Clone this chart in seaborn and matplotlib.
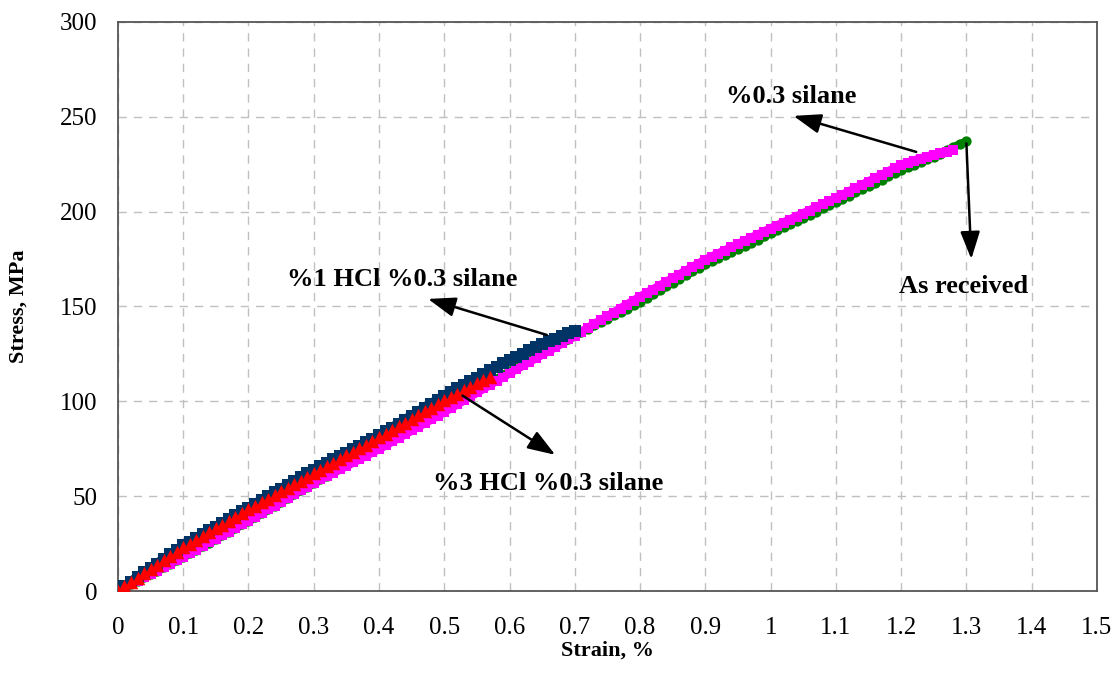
import numpy as np
import pandas as pd
import matplotlib
matplotlib.use("Agg")
import matplotlib.pyplot as plt
import seaborn as sns

# ---------------- data ----------------
strain_received = [round(i * 0.01, 2) for i in range(131)]
stress_received = [
    0, 1.6, 3.5, 5.3, 7.2, 9.0, 10.7, 12.6, 14.4, 16.2,
    18.0, 19.8, 21.8, 23.7, 25.5, 27.4, 29.4, 31.2, 33.1, 35.1,
    37.0, 39.0, 41.1, 43.0, 45.0, 47.1, 49.0, 51.0, 53.0, 55.0,
    57.0, 58.9, 60.8, 62.7, 64.6, 66.5, 68.4, 70.3, 72.2, 74.1,
    76.0, 78.0, 80.0, 82.0, 84.0, 86.0, 88.0, 90.0, 92.0, 94.0,
    96.0, 98.0, 100.0, 102.0, 104.0, 106.0, 108.0, 110.0, 112.0, 114.0,
    116.0, 117.9, 119.8, 121.7, 123.6, 125.5, 127.4, 129.3, 131.2, 133.1,
    135.0, 136.6, 138.3, 140.0, 141.8, 143.6, 145.3, 147.1, 148.9, 150.7,
    152.5, 154.5, 156.6, 158.6, 160.6, 162.6, 164.5, 166.5, 168.5, 170.5,
    172.5, 174.1, 175.6, 177.2, 178.8, 180.4, 182.0, 183.6, 185.2, 186.9,
    188.5, 190.1, 191.8, 193.4, 195.1, 196.7, 198.4, 200.0, 201.7, 203.3,
    205.0, 206.7, 208.4, 210.1, 211.8, 213.5, 215.2, 216.9, 218.6, 220.3,
    222.0, 223.4, 224.8, 226.2, 227.6, 229.0, 230.6, 232.3, 234.0, 235.8,
    237.0,
]

strain_silane = [round(i * 0.01, 2) for i in range(129)]
stress_silane = [
    0, 1.7, 3.5, 5.4, 7.2, 9.0, 10.8, 12.6, 14.4, 16.2,
    18.0, 19.9, 21.8, 23.7, 25.6, 27.5, 29.4, 31.3, 33.2, 35.1,
    37.0, 39.0, 41.0, 43.0, 45.0, 47.0, 49.0, 51.0, 53.0, 55.0,
    57.0, 58.8, 60.6, 62.4, 64.2, 66.0, 67.8, 69.6, 71.4, 73.2,
    75.0, 76.9, 78.9, 80.8, 82.8, 84.7, 86.7, 88.6, 90.6, 92.5,
    94.5, 96.5, 98.6, 100.6, 102.7, 104.7, 106.8, 108.8, 110.9, 112.9,
    115.0, 117.0, 118.9, 120.9, 122.8, 124.8, 126.7, 128.7, 130.6, 132.6,
    134.5, 136.6, 138.6, 140.7, 142.7, 144.8, 146.8, 148.9, 150.9, 153.0,
    155.0, 157.0, 158.9, 160.9, 162.8, 164.8, 166.7, 168.7, 170.6, 172.6,
    174.5, 176.2, 177.8, 179.5, 181.1, 182.8, 184.4, 186.1, 187.7, 189.4,
    191.0, 192.6, 194.2, 195.8, 197.4, 199.0, 200.6, 202.2, 203.8, 205.4,
    207.0, 208.8, 210.5, 212.3, 214.0, 215.8, 217.5, 219.3, 221.0, 222.8,
    224.5, 225.8, 226.9, 228.0, 229.0, 229.9, 230.8, 231.7, 232.5,
]

strain_hcl1 = [round(i * 0.01, 2) for i in range(71)]
stress_hcl1 = [
    0, 2.6, 5.0, 7.4, 9.8, 12.1, 14.5, 16.9, 19.3, 21.7,
    24.0, 26.0, 28.0, 30.0, 32.0, 34.0, 36.0, 38.0, 40.0, 42.0,
    44.0, 46.0, 48.0, 50.0, 52.0, 54.0, 56.0, 58.0, 60.0, 62.0,
    64.0, 65.8, 67.6, 69.4, 71.2, 73.0, 74.8, 76.6, 78.4, 80.2,
    82.0, 84.1, 86.2, 88.3, 90.4, 92.5, 94.6, 96.7, 98.8, 100.9,
    103.0, 104.9, 106.8, 108.7, 110.6, 112.5, 114.4, 116.3, 118.2, 120.1,
    122.0, 123.6, 125.2, 126.8, 128.4, 130.0, 131.6, 133.1, 134.6, 136.0,
    137.2,
]

strain_hcl3 = [round(i * 0.01, 2) for i in range(58)]
stress_hcl3 = [
    0, 2.4, 4.7, 7.0, 9.3, 11.5, 13.8, 16.1, 18.4, 20.7,
    23.0, 25.0, 27.0, 29.0, 31.0, 33.0, 35.0, 37.0, 39.0, 41.0,
    43.0, 44.9, 46.8, 48.7, 50.6, 52.5, 54.4, 56.3, 58.2, 60.1,
    62.0, 63.9, 65.8, 67.7, 69.6, 71.5, 73.4, 75.3, 77.2, 79.1,
    81.0, 83.0, 84.9, 86.9, 88.8, 90.8, 92.7, 94.7, 96.6, 98.6,
    100.5, 102.3, 104.1, 105.9, 107.7, 109.5, 111.3, 113.0,
]

x_ticks = [0, 0.1, 0.2, 0.3, 0.4, 0.5, 0.6, 0.7, 0.8, 0.9, 1.0, 1.1, 1.2, 1.3, 1.4, 1.5]
x_tick_labels = ["0", "0.1", "0.2", "0.3", "0.4", "0.5", "0.6", "0.7", "0.8", "0.9",
                 "1", "1.1", "1.2", "1.3", "1.4", "1.5"]
y_ticks = [0, 50, 100, 150, 200, 250, 300]

label_received = "As received"
label_silane = "%0.3 silane"
label_hcl1 = "%1 HCl %0.3 silane"
label_hcl3 = "%3 HCl %0.3 silane"

# ---------------- style ----------------
sns.set_theme(style="white")
plt.rcParams["font.family"] = ["Liberation Serif", "DejaVu Serif"]
plt.rcParams["text.color"] = "black"
plt.rcParams["axes.labelcolor"] = "black"

fig = plt.figure(figsize=(11.15, 6.82), dpi=100)
ax = fig.add_axes([0.1058, 0.1334, 0.8780, 0.8344])

series = [
    (strain_received, stress_received, "#008000", "o", 55, 5.5),
    (strain_silane, stress_silane, "#FF00FF", "s", 55, 6.5),
    (strain_hcl1, stress_hcl1, "#003366", "s", 85, 7.0),
    (strain_hcl3, stress_hcl3, "#FF0000", "^", 95, 5.5),
]
for xs, ys, col, mk, sz, lw in series:
    df = pd.DataFrame({"strain": xs, "stress": ys})
    sns.lineplot(data=df, x="strain", y="stress", ax=ax, color=col,
                 linewidth=lw, sort=False, zorder=2)
    sns.scatterplot(data=df, x="strain", y="stress", ax=ax, color=col,
                    marker=mk, s=sz, linewidth=0, zorder=3)

ax.set_xlim(0, 1.5)
ax.set_ylim(0, 300)
ax.set_xticks(x_ticks)
ax.set_xticklabels(x_tick_labels)
ax.set_yticks(y_ticks)
ax.grid(True, color="#c0c0c0", linestyle=(0, (6, 5)), linewidth=1.0)
ax.set_axisbelow(True)
for sp in ax.spines.values():
    sp.set_color("#555555")
    sp.set_linewidth(1.3)
ax.tick_params(axis="both", which="major", direction="out", length=6, width=1.2,
               color="#555555", labelsize=18, labelcolor="black")
ax.tick_params(axis="x", pad=13)
ax.tick_params(axis="y", pad=9)
ax.set_xlabel("Strain, %", fontsize=16, fontweight="bold", labelpad=1)
ax.set_ylabel("Stress, MPa", fontsize=16, fontweight="bold", labelpad=22)

arrow = dict(arrowstyle="-|>,head_length=1.4,head_width=0.5", color="black", lw=1.8,
             shrinkA=0, shrinkB=0)
ann_font = dict(fontsize=19, fontweight="bold", ha="center", va="baseline")
ax.annotate("", xy=(1.035, 250.5), xytext=(1.223, 231.5), arrowprops=arrow)
ax.text(1.031, 257.3, label_silane, **ann_font)
ax.annotate("", xy=(1.3075, 175), xytext=(1.3, 236), arrowprops=arrow)
ax.text(1.296, 157.3, label_received, **ann_font)
ax.annotate("", xy=(0.475, 154), xytext=(0.657, 135), arrowprops=arrow)
ax.text(0.435, 161, label_hcl1, **ann_font)
ax.annotate("", xy=(0.67, 71.8), xytext=(0.528, 103), arrowprops=arrow)
ax.text(0.659, 53.3, label_hcl3, **ann_font)

fig.savefig("out.png", dpi=100)
